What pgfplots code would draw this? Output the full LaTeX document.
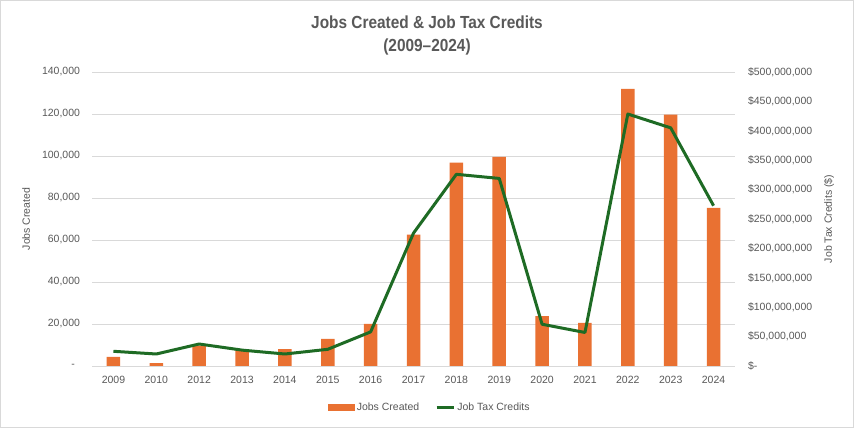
\documentclass[border=0pt]{standalone}
\usepackage{pgfplots}
\pgfplotsset{compat=1.18}
\usepackage{fontspec}
\setmainfont{Liberation Sans}
\newfontfamily\titlefont{Liberation Sans}[FakeStretch=0.88,Ligatures=TeX]
\definecolor{barorange}{HTML}{E97132}
\definecolor{linegreen}{HTML}{1E6B24}
\definecolor{txtgray}{HTML}{595959}
\definecolor{gridgray}{HTML}{D9D9D9}
\definecolor{bordergray}{HTML}{D9D9D9}
\begin{document}
\begin{tikzpicture}[x=1pt,y=1pt]
\useasboundingbox (0,0) rectangle (854,428);
\fill[white] (0,0) rectangle (854,428);
\draw[bordergray, line width=1pt] (0.5,0.5) rectangle (853.5,427.5);
\node[font=\titlefont\bfseries\fontsize{17.5}{23}\selectfont, text=txtgray, align=center] at (427,393) {Jobs Created \& Job Tax Credits\\(2009\textendash 2024)};
\pgfplotsset{
  common/.style={
    scale only axis, width=643pt, height=294pt,
    at={(92pt,62pt)}, anchor=south west,
    xmin=-0.5, xmax=14.5,
    axis line style={draw=none},
    major tick length=0pt,
    scaled y ticks=false,
    tick label style={font=\fontsize{10.5}{12}\selectfont, text=txtgray},
    label style={font=\fontsize{10.5}{12}\selectfont, text=txtgray},
  }
}
\begin{axis}[common,
  ymin=0, ymax=140000,
  ytick={0,20000,40000,60000,80000,100000,120000,140000},
  yticklabels={{-\hspace*{5pt}},{20,000},{40,000},{60,000},{80,000},{100,000},{120,000},{140,000}},
  ymajorgrids, grid style={gridgray, line width=0.8pt},
  xtick={0,...,14},
  xticklabels={2009,2010,2012,2013,2014,2015,2016,2017,2018,2019,2020,2021,2022,2023,2024},
  yticklabel style={xshift=-8.5pt},
  xticklabel style={yshift=-7pt},
  ylabel={Jobs Created},
  ylabel style={at={(axis description cs:-0.1026,0.5)}, anchor=center},
]
\addplot[ybar, bar width=13.5pt, fill=barorange, draw=none] coordinates {
(0,4400) (1,1400) (2,9700) (3,8000) (4,8000) (5,12900) (6,20000) (7,62500)
(8,96800) (9,99600) (10,23800) (11,20500) (12,132000) (13,119700) (14,75300)};
\end{axis}
\begin{axis}[common,
  axis y line*=right, axis x line=none,
  ymin=0, ymax=500000000,
  ytick={0,50000000,100000000,150000000,200000000,250000000,300000000,350000000,400000000,450000000,500000000},
  yticklabels={{\$-},{\$50,000,000},{\$100,000,000},{\$150,000,000},{\$200,000,000},{\$250,000,000},{\$300,000,000},{\$350,000,000},{\$400,000,000},{\$450,000,000},{\$500,000,000}},
  yticklabel style={anchor=west, xshift=9.5pt},
  ylabel={Job Tax Credits (\$)},
  ylabel style={at={(axis description cs:1.1462,0.5)}, anchor=center},
  legend columns=2,
  legend style={at={(axis description cs:0.5257,-0.1395)}, anchor=center, draw=none, fill=none,
    font=\fontsize{10.5}{12}\selectfont, text=txtgray,
    /tikz/every even column/.append style={column sep=14pt}},
]
\addlegendimage{legend image code/.code={\fill[barorange] (0pt,-3pt) rectangle (26pt,3pt);}}
\addlegendentry{Jobs Created}
\addplot[linegreen, line width=3pt, line join=round] coordinates {
(0,25000000) (1,20400000) (2,37400000) (3,27000000) (4,20400000) (5,28400000) (6,58000000) (7,226000000)
(8,326000000) (9,319000000) (10,71000000) (11,57000000) (12,428500000) (13,405000000) (14,272600000)};
\addlegendentry{Job Tax Credits}
\end{axis}
\end{tikzpicture}
\end{document}
